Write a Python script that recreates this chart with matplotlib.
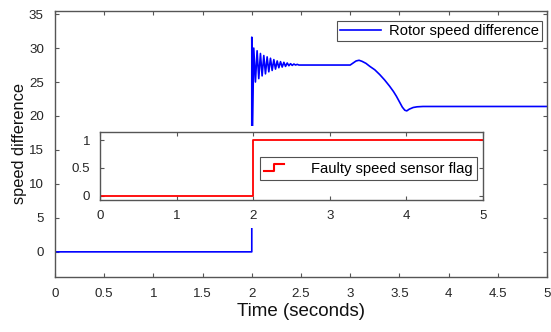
import matplotlib
matplotlib.use("Agg")
import matplotlib.pyplot as plt
from matplotlib.lines import Line2D
from matplotlib.legend_handler import HandlerBase
from matplotlib.patches import Rectangle

plt.rcParams['font.family'] = ['Liberation Sans', 'DejaVu Sans']

# ---- data: rotor speed difference ----
pre_t = [0.0, 2.0]
pre_v = [0.0, 0.0]
osc_t = [2.000, 2.008, 2.020, 2.037, 2.054, 2.071, 2.088, 2.105, 2.122, 2.139, 2.156, 2.173,
         2.190, 2.207, 2.224, 2.241, 2.258, 2.275, 2.292, 2.309, 2.326, 2.343, 2.360, 2.377,
         2.394, 2.411, 2.428, 2.445, 2.462, 2.479]
osc_v = [31.6, 18.5, 30.0, 25.0, 29.6, 25.5, 29.2, 25.9, 28.9, 26.2, 28.7, 26.5,
         28.5, 26.7, 28.3, 26.9, 28.1, 27.1, 28.0, 27.2, 27.9, 27.3, 27.8, 27.4,
         27.7, 27.45, 27.65, 27.5, 27.6, 27.5]
post_t = [2.50, 3.00, 3.03, 3.06, 3.09, 3.12, 3.16, 3.20, 3.25, 3.30, 3.35, 3.40, 3.44,
          3.47, 3.50, 3.53, 3.555, 3.575, 3.60, 3.64, 3.68, 3.74, 4.00, 5.00]
post_v = [27.5, 27.5, 27.8, 28.1, 28.2, 28.05, 27.75, 27.3, 26.8, 26.1, 25.3, 24.4, 23.6,
          22.9, 22.1, 21.3, 20.85, 20.75, 21.0, 21.25, 21.35, 21.4, 21.4, 21.4]

# ---- data: faulty speed sensor flag ----
flag_t = [0.0, 2.0, 2.0, 5.0]
flag_v = [0.0, 0.0, 1.0, 1.0]

main_xticks = [0, 0.5, 1, 1.5, 2, 2.5, 3, 3.5, 4, 4.5, 5]
main_xticklabels = ['0', '0.5', '1', '1.5', '2', '2.5', '3', '3.5', '4', '4.5', '5']
main_yticks = [0, 5, 10, 15, 20, 25, 30, 35]
inset_xticks = [0, 1, 2, 3, 4, 5]
inset_yticks = [0, 0.5, 1]
inset_yticklabels = ['0', '0.5', '1']

BLUE = '#0000ff'
RED = '#ff0000'
GRAY = '#262626'
SPINE = '#555555'

t_all = pre_t + osc_t + post_t
v_all = pre_v + osc_v + post_v

fig = plt.figure(figsize=(5.51, 3.32), dpi=100)
ax = fig.add_axes([0.0998, 0.1657, 0.8929, 0.8021])
ax.plot(t_all, v_all, color=BLUE, lw=1.2, label='Rotor speed difference')
ax.set_xlim(0, 5)
ax.set_ylim(-3.7, 35.5)
ax.set_xticks(main_xticks)
ax.set_xticklabels(main_xticklabels)
ax.set_yticks(main_yticks)
ax.tick_params(direction='in', length=3, top=True, right=True, labelsize=9.6,
               colors=SPINE, labelcolor=GRAY, pad=8)
for s in ax.spines.values():
    s.set_color(SPINE)
    s.set_linewidth(1.0)
ax.set_xlabel('Time (seconds)', fontsize=13.5, color='#111111', labelpad=2)
ax.set_ylabel('speed difference', fontsize=11.8, color='#111111', labelpad=1.5)
leg = ax.legend(loc='upper right', bbox_to_anchor=(0.99, 0.962), fontsize=10.6,
                frameon=True, fancybox=False, edgecolor=GRAY, handlelength=2.8,
                handletextpad=0.5, borderpad=0.22, borderaxespad=0)
leg.get_frame().set_linewidth(0.8)

# white patch behind inset (pasted-figure look)
fig.patches.append(Rectangle((62 / 551, 1 - 228 / 332), (490 - 62) / 551, (228 - 126) / 332,
                             transform=fig.transFigure, facecolor='white',
                             edgecolor='none', zorder=1))

axin = fig.add_axes([100 / 551, 1 - 200 / 332, (483 - 100) / 551, (200 - 131.7) / 332])
axin.set_zorder(3)
axin.plot(flag_t, flag_v, color=RED, lw=1.3, label='Faulty speed sensor flag')
axin.set_xlim(0, 5)
axin.set_ylim(-0.08, 1.15)
axin.set_xticks(inset_xticks)
axin.set_yticks(inset_yticks)
axin.set_yticklabels(inset_yticklabels)
axin.tick_params(direction='in', length=3, top=True, right=True, labelsize=9.6,
                 colors=SPINE, labelcolor=GRAY, pad=7)
for s in axin.spines.values():
    s.set_color(SPINE)
    s.set_linewidth(1.0)


class StepHandler(HandlerBase):
    def create_artists(self, legend, orig_handle, xdescent, ydescent, width, height,
                       fontsize, trans):
        x0 = -xdescent
        lo = -ydescent + height * 0.15
        hi = -ydescent + height * 0.85
        xs = [x0, x0 + width * 0.45, x0 + width * 0.45, x0 + width * 0.9]
        ys = [lo, lo, hi, hi]
        ln = Line2D(xs, ys, color=RED, lw=1.5, transform=trans)
        return [ln]


h = Line2D([], [], color=RED)
leg2 = axin.legend([h], ['Faulty speed sensor flag'], handler_map={Line2D: StepHandler()},
                   loc='lower right', bbox_to_anchor=(0.985, 0.29), fontsize=10.6,
                   frameon=True, fancybox=False, edgecolor=GRAY, handlelength=1.5,
                   handletextpad=1.7, borderpad=0.3, borderaxespad=0)
leg2.get_frame().set_linewidth(0.8)

fig.savefig('out.png', dpi=100)
